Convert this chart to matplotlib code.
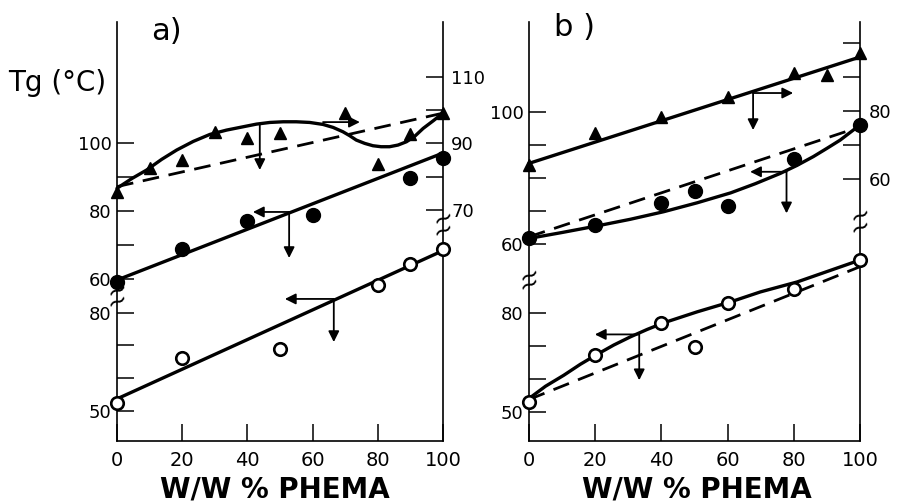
import matplotlib.pyplot as plt

# ---- panel a) ----
# triangles (right axis)
pct_a_tri = [0, 10, 20, 30, 40, 50, 70, 80, 90, 100]
tg_a_tri = [75.5, 82.7, 85.0, 93.5, 91.7, 93.1, 99.1, 83.7, 92.8, 99.1]
curve_a_tri_x = [0, 4.5, 9.1, 13.7, 18.3, 23.4, 28.5, 33.6, 38.7, 42.8, 46.9, 51.0, 55.0, 59.1, 63.2,
                 66.3, 69.3, 71.4, 73.4, 76.0, 78.5, 81.0, 83.6, 86.2, 88.8, 91.4, 93.9, 97.0, 100]
curve_a_tri_y = [76.5, 79.4, 82.0, 85.2, 88.0, 90.6, 92.7, 94.0, 95.0, 95.8, 96.3, 96.5, 96.5, 96.3, 95.7,
                 94.8, 93.5, 92.3, 91.0, 90.0, 89.3, 89.0, 89.0, 89.5, 90.5, 92.2, 94.5, 96.8, 99.1]
dash_a_tri = [77.0, 99.1]
# filled circles (upper left axis)
pct_a_fill = [0, 20, 40, 60, 90, 100]
tg_a_fill = [59.1, 68.8, 77.0, 78.8, 89.7, 95.7]
line_a_fill = [59.6, 97.1]
# open circles (lower left axis)
pct_a_open = [0, 20, 50, 80, 90, 100]
tg_a_open = [52.4, 66.1, 68.9, 88.5, 94.9, 99.5]
line_a_open = [53.6, 99.0]

# ---- panel b) ----
pct_b_tri = [0, 20, 40, 60, 80, 90, 100]
tg_b_tri = [64.1, 73.4, 78.3, 84.1, 91.2, 90.6, 97.1]
line_b_tri = [64.6, 95.9]
pct_b_fill = [0, 20, 40, 50, 60, 80, 100]
tg_b_fill = [61.7, 65.8, 72.3, 76.2, 71.6, 85.7, 96.1]
curve_b_fill_x = [0, 10, 20.6, 30.6, 40.7, 50.8, 60.9, 68.4, 75.9, 80.9, 85.9, 90, 94, 97, 100]
curve_b_fill_y = [61.7, 63.5, 65.5, 67.5, 69.8, 72.5, 75.5, 78.3, 81.4, 83.8, 86.5, 89.0, 91.5, 93.8, 96.1]
dash_b_fill = [62.2, 95.5]
pct_b_open = [0, 20, 40, 50, 60, 80, 100]
tg_b_open = [53.2, 67.3, 77.0, 69.6, 83.1, 87.3, 95.9]
curve_b_open_x = [0, 5, 10.5, 15.5, 20.6, 25.6, 30.7, 35.7, 40.7, 50.8, 60.9, 69.9, 81, 90.5, 100]
curve_b_open_y = [54.2, 57.9, 61.2, 64.5, 67.5, 70.3, 72.8, 75.0, 77.0, 80.3, 83.3, 86.3, 89.3, 92.6, 95.9]
dash_b_open = [53.9, 93.9]

x_ticks = [0, 20, 40, 60, 80, 100]
ends = [0, 100]

fig = plt.figure(figsize=(9.01, 5.03), dpi=100)

bottom, height = 62 / 503, 419 / 503
tick_kw = dict(direction='in', length=12, width=1.1, labelsize=13, color='k')


def make_panel(left, width, low_lim, up_lim, right_lim, low_lab, up_lab, right_lab):
    ax = fig.add_axes([left, bottom, width, height])
    ax.set_xlim(0, 100)
    ax.set_ylim(*low_lim)
    ax.spines['top'].set_visible(False)
    for s in ['left', 'right', 'bottom']:
        ax.spines[s].set_linewidth(1.2)
    ax.set_xticks(x_ticks)
    ax.tick_params(axis='x', pad=7, **{**tick_kw, 'labelsize': 14})
    ax.set_yticks([50, 60, 70, 80])
    ax.set_yticklabels(low_lab)
    ax.tick_params(axis='y', pad=4, **tick_kw)

    ax_up = fig.add_axes([left, bottom, width, height])
    ax_rt = fig.add_axes([left, bottom, width, height])
    for a in (ax_up, ax_rt):
        a.patch.set_visible(False)
        for s in a.spines.values():
            s.set_visible(False)
        a.set_xlim(0, 100)
        a.tick_params(axis='x', bottom=False, labelbottom=False)
    ax_up.set_ylim(*up_lim)
    ax_up.set_yticks([60, 70, 80, 90, 100])
    ax_up.set_yticklabels(up_lab)
    ax_up.tick_params(axis='y', pad=4, **tick_kw)

    ax_rt.set_ylim(*right_lim)
    ax_rt.yaxis.tick_right()
    ax_rt.set_yticks(right_lab[0])
    ax_rt.set_yticklabels(right_lab[1])
    ax_rt.tick_params(axis='y', pad=6, **tick_kw)
    return ax, ax_up, ax_rt


def arrows(ax, start, left_end=None, right_end=None, down_end=None):
    ap = dict(arrowstyle='-|>', color='k', lw=1.3, mutation_scale=16,
              shrinkA=0, shrinkB=0)
    if left_end is not None:
        ax.annotate('', xy=(left_end, start[1]), xytext=start, arrowprops=ap)
    if right_end is not None:
        ax.annotate('', xy=(right_end, start[1]), xytext=start, arrowprops=ap)
    if down_end is not None:
        ax.annotate('', xy=(start[0], down_end), xytext=start, arrowprops=ap)


def breaks(ax, xpos, ys):
    tr = ax.get_yaxis_transform()
    for y in ys:
        ax.text(xpos, y, '~', transform=tr, ha='center', va='center',
                fontsize=18, rotation=25, clip_on=False)


line_kw = dict(color='k', lw=2.4, clip_on=False, zorder=3,
               solid_joinstyle='round', solid_capstyle='round')
dash_kw = dict(color='k', lw=2.0, dashes=(6, 3.5), clip_on=False, zorder=3)
tri_kw = dict(marker='^', ls='none', color='k', ms=9, clip_on=False, zorder=4)
fill_kw = dict(marker='o', ls='none', color='k', ms=10, clip_on=False, zorder=4)
open_kw = dict(marker='o', ls='none', mfc='white', mec='k', mew=1.9, ms=9,
               clip_on=False, zorder=4)

# ---- panel a ----
a_low, a_up, a_rt = make_panel(
    117 / 901, 326 / 901, (40.7, 169.0), (12.06, 135.8), (0.52, 126.5),
    ['50', '', '', '80'], ['60', '', '80', '', '100'],
    ([70, 80, 90, 100, 110], ['70', '', '90', '', '110']))

a_rt.plot(curve_a_tri_x, curve_a_tri_y, **line_kw)
a_rt.plot(ends, dash_a_tri, **dash_kw)
a_rt.plot(pct_a_tri, tg_a_tri, **tri_kw)
arrows(a_rt, (43.8, 95.6), down_end=82.0)
arrows(a_rt, (63.2, 96.4), right_end=74.5)

a_up.plot(ends, line_a_fill, **line_kw)
a_up.plot(pct_a_fill, tg_a_fill, **fill_kw)
arrows(a_up, (52.8, 79.7), left_end=41.7, down_end=66.1)

a_low.plot(ends, line_a_open, **line_kw)
a_low.plot(pct_a_open, tg_a_open, **open_kw)
arrows(a_low, (66.5, 84.2), left_end=51.5, down_end=71.0)

breaks(a_low, 0, [86.9, 83.4])
breaks(a_low, 1, [109.0, 105.3])

# ---- panel b ----
b_low, b_up, b_rt = make_panel(
    529 / 901, 331 / 901, (41.4, 167.6), (0.3, 127.3), (-17.1, 106.2),
    ['50', '', '', '80'], ['60', '', '', '', '100'],
    ([60, 70, 80, 90, 100], ['60', '', '80', '', '']))

b_rt.plot(ends, line_b_tri, **line_kw)
b_rt.plot(pct_b_tri, tg_b_tri, **tri_kw)
arrows(b_rt, (67.7, 85.3), right_end=79.8, down_end=74.4)

b_up.plot(curve_b_fill_x, curve_b_fill_y, **line_kw)
b_up.plot(ends, dash_b_fill, **dash_kw)
b_up.plot(pct_b_fill, tg_b_fill, **fill_kw)
arrows(b_up, (77.8, 81.9), left_end=66.8, down_end=69.3)

b_low.plot(curve_b_open_x, curve_b_open_y, **line_kw)
b_low.plot(ends, dash_b_open, **dash_kw)
b_low.plot(pct_b_open, tg_b_open, **open_kw)
arrows(b_low, (33.3, 73.5), left_end=19.9, down_end=59.7)

breaks(b_low, 0, [91.4, 88.6])
breaks(b_low, 1, [109.4, 105.8])

# ---- texts ----
fig.text(57 / 901, 1 - 83 / 503, 'Tg (°C)', ha='center', va='center', fontsize=20)
fig.text(166 / 901, 1 - 32 / 503, 'a)', ha='center', va='center', fontsize=22)
fig.text(575 / 901, 1 - 28 / 503, 'b )', ha='center', va='center', fontsize=22)
fig.text(275 / 901, 1 - 490 / 503, 'W/W % PHEMA', ha='center', va='center',
         fontsize=20, fontweight='bold')
fig.text(697 / 901, 1 - 490 / 503, 'W/W % PHEMA', ha='center', va='center',
         fontsize=20, fontweight='bold')

fig.savefig('out.png', dpi=100)
